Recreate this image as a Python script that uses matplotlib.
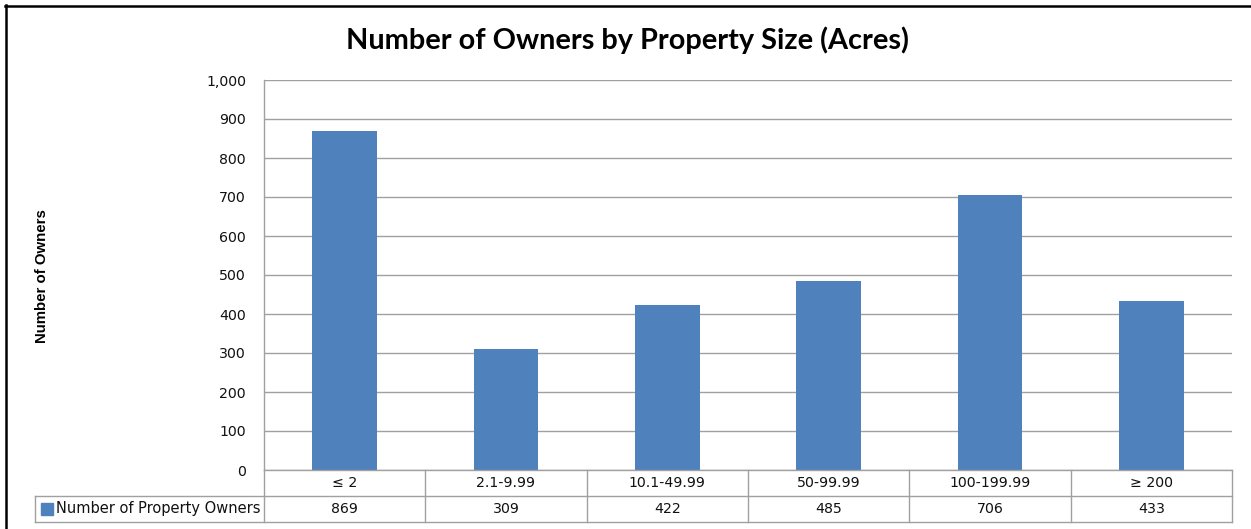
import matplotlib
matplotlib.use("Agg")
import matplotlib.pyplot as plt
from matplotlib.lines import Line2D
from matplotlib.patches import Rectangle

categories = ["≤ 2", "2.1-9.99", "10.1-49.99", "50-99.99", "100-199.99", "≥ 200"]
owners = [869, 309, 422, 485, 706, 433]
series_name = "Number of Property Owners"
title = "Number of Owners by Property Size (Acres)"
ylabel = "Number of Owners"
yticks = [0, 100, 200, 300, 400, 500, 600, 700, 800, 900, 1000]

W, H = 1251, 529
fig = plt.figure(figsize=(W / 100, H / 100), dpi=100)
fig.patch.set_facecolor("white")

def fx(px):
    return px / W

def fy(py):
    return 1 - py / H

BAR = "#4F81BD"
GRID = "#A0A0A0"
TXT = "#111111"
FS = 10.2

left_px, right_px, top_px, bot_px = 264, 1232, 80, 470
ax = fig.add_axes([fx(left_px), fy(bot_px), fx(right_px - left_px), (bot_px - top_px) / H])
x = list(range(len(categories)))
ax.bar(x, owners, width=0.4, color=BAR, zorder=3)
ax.set_xlim(-0.5, len(categories) - 0.5)
ax.set_ylim(0, 1000)
ax.set_yticks(yticks)
ax.set_yticklabels([f"{v:,}" for v in yticks], fontsize=FS, color=TXT, family="DejaVu Sans")
ax.tick_params(axis="y", length=0, pad=13)
ax.set_xticks([])
ax.yaxis.grid(True, color=GRID, linewidth=1.0, zorder=0)
for s in ["top", "right", "bottom"]:
    ax.spines[s].set_visible(False)
ax.spines["left"].set_color(GRID)
ax.spines["left"].set_linewidth(1.0)

# table axes
tab_left_px = 35
tab_bot_px = 522
cw = (right_px - left_px) / len(categories)
xl_left = -0.5 - (left_px - tab_left_px) / cw
tax = fig.add_axes([fx(tab_left_px), fy(tab_bot_px), fx(right_px - tab_left_px), (tab_bot_px - bot_px) / H])
tax.set_xlim(xl_left, len(categories) - 0.5)
tax.set_ylim(0, 2)
tax.axis("off")
lw = 1.0
tax.plot([-0.5, len(categories) - 0.5], [2, 2], color=GRID, lw=lw, clip_on=False)
tax.plot([xl_left, len(categories) - 0.5], [1, 1], color=GRID, lw=lw, clip_on=False)
tax.plot([xl_left, len(categories) - 0.5], [0, 0], color=GRID, lw=lw, clip_on=False)
for i in range(len(categories) + 1):
    tax.plot([i - 0.5, i - 0.5], [0, 2], color=GRID, lw=lw, clip_on=False)
tax.plot([xl_left, xl_left], [0, 1], color=GRID, lw=lw, clip_on=False)
for i, (c, v) in enumerate(zip(categories, owners)):
    tax.text(i, 1.5, c, ha="center", va="center", fontsize=FS, color=TXT, family="DejaVu Sans")
    tax.text(i, 0.5, f"{v:,}", ha="center", va="center", fontsize=FS, color=TXT, family="DejaVu Sans")
key_x0 = xl_left + (41 - tab_left_px) / cw
key_w = 12 / cw
tax.add_patch(Rectangle((key_x0, 0.5 - 0.22), key_w, 0.44, color=BAR, clip_on=False))
tax.text(xl_left + (56 - tab_left_px) / cw, 0.5, series_name, ha="left", va="center",
         fontsize=10.5, color=TXT, family="DejaVu Sans")

fig.text(fx(628), fy(40), title, ha="center", va="center", fontsize=20.8,
         fontweight="bold", family="Lato", color="black")
fig.text(fx(42), fy(276), ylabel, ha="center", va="center", rotation=90,
         fontsize=10.8, fontweight="bold", family="Liberation Sans", color="black")

# outer frame
fig.add_artist(Line2D([fx(5.5), fx(5.5)], [0, fy(5)], color="black", lw=1.8))
fig.add_artist(Line2D([fx(5), 1], [fy(5.5), fy(5.5)], color="black", lw=1.8))

fig.savefig("out.png", dpi=100)
